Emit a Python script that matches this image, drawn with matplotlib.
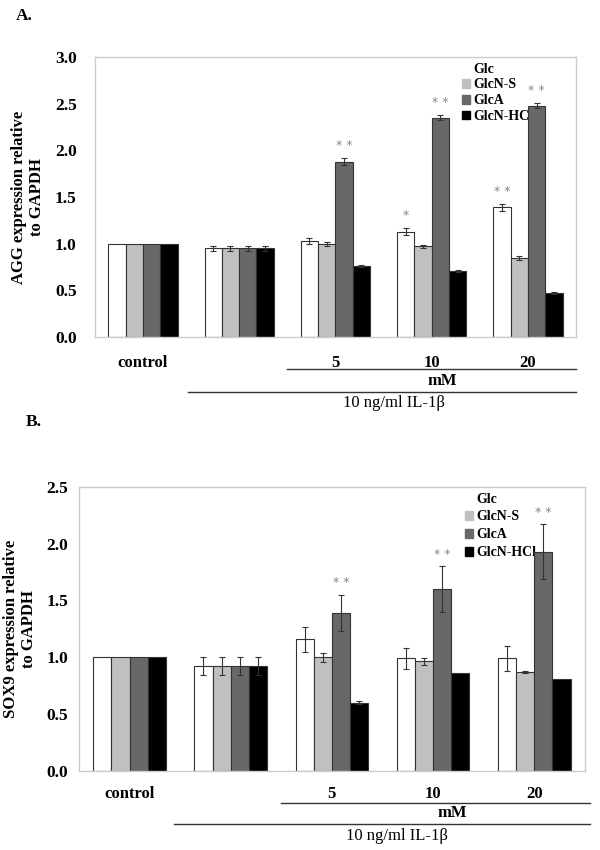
import numpy as np
import matplotlib
matplotlib.use("Agg")
import matplotlib.pyplot as plt
from matplotlib.patches import Patch

plt.rcParams['font.family'] = ['Liberation Serif', 'DejaVu Serif']
plt.rcParams['font.weight'] = 'bold'

groups = ['control', '', '5', '10', '20']
series = ['Glc', 'GlcN-S', 'GlcA', 'GlcN-HCl']
colors = ['white', '#c0c0c0', '#686868', 'black']

# AGG (panel A)
agg_vals = [
    [1.00, 0.95, 1.03, 1.13, 1.39],   # Glc
    [1.00, 0.95, 1.00, 0.97, 0.85],   # GlcN-S
    [1.00, 0.95, 1.88, 2.35, 2.48],   # GlcA
    [1.00, 0.95, 0.76, 0.71, 0.47],   # GlcN-HCl
]
agg_err = [
    [0, 0.03, 0.03, 0.04, 0.04],
    [0, 0.03, 0.02, 0.02, 0.02],
    [0, 0.03, 0.04, 0.03, 0.03],
    [0, 0.03, 0.01, 0.01, 0.01],
]
# (series index, group index, label)
agg_stars = [(2, 2, '* *'), (2, 3, '* *'), (2, 4, '* *'), (0, 3, '*'), (0, 4, '* *')]

# SOX9 (panel B)
sox_vals = [
    [1.00, 0.92, 1.16, 0.99, 0.99],
    [1.00, 0.92, 1.00, 0.965, 0.87],
    [1.00, 0.92, 1.39, 1.60, 1.93],
    [1.00, 0.92, 0.60, 0.86, 0.81],
]
sox_err = [
    [0, 0.08, 0.11, 0.09, 0.11],
    [0, 0.08, 0.04, 0.03, 0.005],
    [0, 0.08, 0.16, 0.20, 0.24],
    [0, 0.08, 0.01, 0.0, 0.0],
]
sox_stars = [(2, 2, '* *'), (2, 3, '* *'), (2, 4, '* *')]

fig = plt.figure(figsize=(6, 8.5), dpi=100)
axA = fig.add_axes([0.158, 0.6035, 0.802, 0.3294])
axB = fig.add_axes([0.1317, 0.0933, 0.843, 0.3338])

width = 0.18
x = np.arange(len(groups))


def draw_panel(ax, vals, errs, stars, ymax, ylabel, ylab_x, tick_pad, leg_pos,
               leg_space, ys):
    for i in range(4):
        pos = x + (i - 1.5) * width
        yerr = [e if e > 0 else np.nan for e in errs[i]]
        ax.bar(pos, vals[i], width, color=colors[i], edgecolor='#333333', linewidth=0.8,
               zorder=2)
        ax.errorbar(pos, vals[i], yerr=yerr, fmt='none', ecolor='#333333', elinewidth=0.8,
                    capsize=2, capthick=0.8, zorder=3)
    for si, gi, s in stars:
        top = vals[si][gi] + errs[si][gi]
        ax.text(x[gi] + (si - 1.5) * width, top + 0.06 * ymax / 3, s, ha='center',
                va='bottom', fontsize=9, color='#888888', fontweight='normal',
                family='DejaVu Sans', zorder=4)
    ax.set_xlim(-0.5, 4.5)
    ax.set_ylim(0, ymax)
    ticks = np.arange(0, ymax + 0.01, 0.5)
    ax.set_yticks(ticks)
    ax.set_yticklabels(['%.1f' % v for v in ticks], fontsize=12.5, fontweight='bold')
    ax.tick_params(axis='y', length=0, pad=tick_pad)
    ax.set_xticks([])
    for sp in ax.spines.values():
        sp.set_color('#cccccc')
        sp.set_linewidth(1)
    ax.set_ylabel(ylabel, fontsize=12, fontweight='bold', linespacing=1.15)
    ax.yaxis.set_label_coords(ylab_x, 0.5)

    handles = [Patch(facecolor=c, edgecolor=c) for c in colors]
    leg = ax.legend(handles, series, loc='upper left', bbox_to_anchor=leg_pos,
                    frameon=True, edgecolor='none', framealpha=1, fancybox=False,
                    fontsize=10, handlelength=0.6, handleheight=0.6, handletextpad=0.25,
                    labelspacing=leg_space, borderpad=0.1, borderaxespad=0)
    leg.set_zorder(1)

    tr = ax.get_xaxis_transform()
    y_num, y_l1, y_mm, y_l2, y_il, l1_end, mm_x, il_x, l2_start = ys
    ax.text(x[0], y_num, groups[0], transform=tr, ha='center', va='center',
            fontsize=12, fontweight='bold')
    for g in range(2, 5):
        ax.text(x[g], y_num, groups[g], transform=tr, ha='center', va='center',
                fontsize=12, fontweight='bold')
    ax.plot([1.5, l1_end], [y_l1, y_l1], transform=tr, color='#333333', lw=1,
            clip_on=False)
    ax.text(mm_x, y_mm, 'mM', transform=tr, ha='center', va='center',
            fontsize=12, fontweight='bold')
    ax.plot([l2_start, l1_end], [y_l2, y_l2], transform=tr, color='#333333', lw=1,
            clip_on=False)
    ax.text(il_x, y_il, '10 ng/ml IL-1β', transform=tr, ha='center', va='center',
            fontsize=12, fontweight='normal')


draw_panel(axA, agg_vals, agg_err, agg_stars, 3.0,
           'AGG expression relative\nto GAPDH', -0.104, 13, (0.76, 0.985), 0.2,
           (-0.093, -0.114, -0.157, -0.196, -0.236, 4.5, 3.11, 2.61, 0.465))
draw_panel(axB, sox_vals, sox_err, sox_stars, 2.5,
           'SOX9 expression relative\nto GAPDH', -0.083, 8, (0.76, 0.985), 0.35,
           (-0.082, -0.114, -0.149, -0.188, -0.230, 4.55, 3.19, 2.64, 0.436))

fig.text(16 / 600, 1 - 16 / 850, 'A.', fontsize=12.5, fontweight='bold', va='center')
fig.text(26 / 600, 1 - 422 / 850, 'B.', fontsize=12.5, fontweight='bold', va='center')

fig.savefig('out.png', dpi=100, facecolor='white')
